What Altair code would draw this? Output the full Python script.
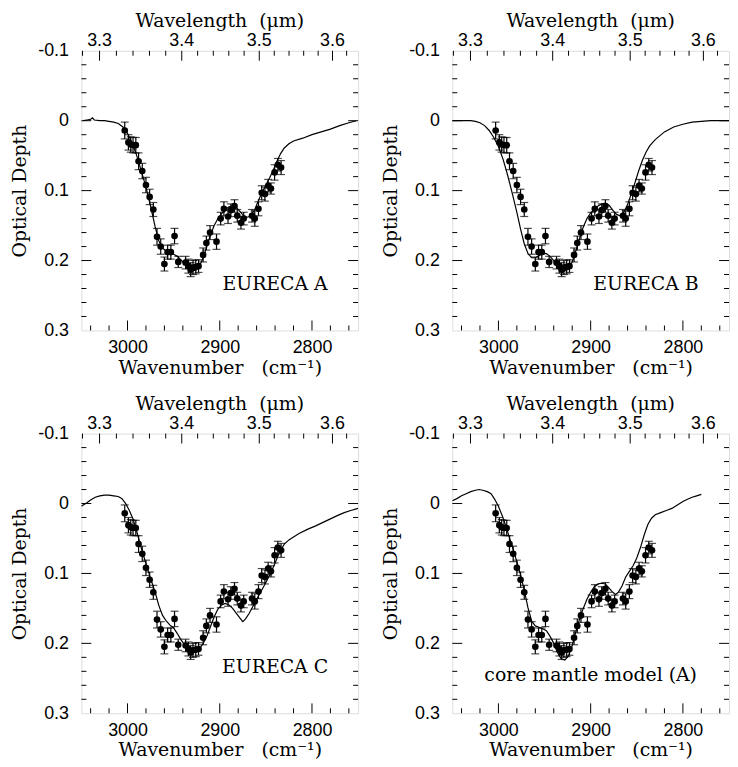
import altair as alt
import pandas as pd

# ---------------- observed optical depth (same data in all panels) ----------------
obs_wn = [3003, 2999, 2996.5, 2994, 2991,
          2988, 2984, 2980, 2976, 2972,
          2968, 2964, 2960, 2956.5, 2953,
          2949, 2945, 2937, 2934, 2931.5,
          2929, 2926, 2923, 2918, 2914.5,
          2910.5, 2903.5, 2899, 2895.5, 2891,
          2888, 2884, 2881, 2877, 2874,
          2865, 2862, 2858, 2854.5, 2851,
          2847.5, 2844.5, 2840.5, 2837, 2833.5]
obs_tau = [0.014, 0.031, 0.034, 0.035, 0.035,
           0.058, 0.072, 0.092, 0.109, 0.127,
           0.166, 0.180, 0.205, 0.188, 0.188,
           0.165, 0.202, 0.203, 0.208, 0.213,
           0.210, 0.209, 0.208, 0.192, 0.175,
           0.160, 0.173, 0.140, 0.126, 0.137,
           0.128, 0.122, 0.136, 0.146, 0.140,
           0.136, 0.140, 0.126, 0.103, 0.105,
           0.093, 0.097, 0.074, 0.063, 0.067]
obs_err = [0.012, 0.011, 0.011, 0.011, 0.011,
           0.012, 0.011, 0.011, 0.011, 0.010,
           0.012, 0.011, 0.010, 0.010, 0.010,
           0.011, 0.008, 0.009, 0.010, 0.010,
           0.010, 0.010, 0.009, 0.010, 0.010,
           0.010, 0.011, 0.009, 0.010, 0.010,
           0.009, 0.009, 0.009, 0.009, 0.009,
           0.009, 0.011, 0.010, 0.010, 0.010,
           0.009, 0.008, 0.011, 0.009, 0.010]

# ---------------- model curves ----------------
a_wn = [3048, 3044, 3040, 3038, 3036, 3030, 3025, 3020, 3015, 3010, 3005, 3000, 2995, 2990,
        2985, 2980, 2975, 2970, 2966, 2962, 2958, 2954, 2950, 2946, 2942, 2938, 2934, 2930,
        2926, 2922, 2918, 2914, 2910, 2906, 2902, 2898, 2894, 2890, 2886, 2882, 2878, 2874,
        2870, 2866, 2862, 2858, 2854, 2850, 2846, 2842, 2838, 2834, 2830, 2825, 2820, 2810,
        2800, 2790, 2780, 2770, 2760, 2752]
a_tau = [0.000, -0.001, -0.002, -0.004, -0.001, 0.000, 0.000, 0.001, 0.002, 0.004, 0.009, 0.018, 0.032, 0.050,
         0.072, 0.095, 0.122, 0.152, 0.172, 0.182, 0.187, 0.189, 0.191, 0.194, 0.199, 0.205, 0.210, 0.214,
         0.214, 0.208, 0.196, 0.180, 0.163, 0.150, 0.140, 0.133, 0.127, 0.123, 0.122, 0.124, 0.130, 0.136,
         0.138, 0.136, 0.127, 0.114, 0.102, 0.092, 0.082, 0.071, 0.058, 0.047, 0.039, 0.033, 0.029, 0.025,
         0.020, 0.016, 0.012, 0.007, 0.003, 0.000]

b_wn = [3050, 3040, 3030, 3025, 3020, 3015, 3010, 3005, 3000, 2995, 2990, 2985, 2980, 2976,
        2972, 2968, 2964, 2960, 2956, 2952, 2948, 2944, 2940, 2936, 2932, 2928, 2924, 2920,
        2916, 2912, 2908, 2904, 2900, 2896, 2892, 2888, 2884, 2880, 2876, 2872, 2868, 2864,
        2860, 2856, 2852, 2848, 2844, 2840, 2836, 2830, 2820, 2810, 2800, 2790, 2780, 2770, 2750]
b_tau = [0.000, 0.000, 0.000, 0.001, 0.003, 0.007, 0.014, 0.024, 0.037, 0.055, 0.078, 0.104, 0.131, 0.155,
         0.176, 0.190, 0.196, 0.196, 0.193, 0.190, 0.190, 0.194, 0.200, 0.207, 0.213, 0.215, 0.212, 0.202,
         0.186, 0.168, 0.152, 0.140, 0.132, 0.127, 0.122, 0.119, 0.118, 0.121, 0.128, 0.134, 0.136, 0.131,
         0.120, 0.105, 0.089, 0.072, 0.057, 0.045, 0.036, 0.027, 0.016, 0.009, 0.005, 0.002, 0.001, 0.000, 0.000]

c_wn = [3050, 3048, 3044, 3040, 3035, 3030, 3025, 3020, 3015, 3010, 3006, 3002, 2998, 2994, 2990,
        2985, 2980, 2975, 2970, 2966, 2962, 2958, 2954, 2950, 2946, 2942, 2938, 2934, 2930,
        2926, 2922, 2918, 2914, 2910, 2906, 2902, 2898, 2894, 2890, 2886, 2882, 2878, 2875,
        2872, 2868, 2864, 2860, 2855, 2850, 2845, 2840, 2835, 2830, 2825, 2820, 2814, 2805,
        2796, 2788, 2780, 2772, 2765, 2758, 2750]
c_tau = [0.004, 0.002, -0.001, -0.005, -0.009, -0.011, -0.012, -0.012, -0.011, -0.010, -0.007, 0.000, 0.010, 0.022, 0.040,
         0.064, 0.086, 0.107, 0.127, 0.146, 0.160, 0.168, 0.174, 0.178, 0.186, 0.195, 0.202, 0.207, 0.211,
         0.212, 0.208, 0.200, 0.190, 0.176, 0.162, 0.151, 0.145, 0.143, 0.145, 0.150, 0.157, 0.164, 0.169,
         0.165, 0.157, 0.147, 0.137, 0.125, 0.113, 0.100, 0.085, 0.069, 0.058, 0.052, 0.048, 0.043, 0.037,
         0.032, 0.027, 0.022, 0.017, 0.013, 0.010, 0.007]

d_wn = [3050, 3045, 3040, 3035, 3030, 3025, 3021, 3017, 3012, 3008, 3004, 3000, 2996, 2992,
        2988, 2984, 2980, 2976, 2972, 2968, 2964, 2960, 2956, 2952, 2948, 2944, 2940, 2936,
        2932, 2928, 2924, 2920, 2916, 2912, 2908, 2904, 2900, 2896, 2892, 2888, 2884, 2880,
        2876, 2873, 2870, 2866, 2862, 2858, 2854, 2850, 2846, 2842, 2838, 2834, 2830, 2824,
        2818, 2812, 2806, 2800, 2795, 2790, 2785, 2780]
d_tau = [-0.004, -0.007, -0.011, -0.014, -0.017, -0.019, -0.020, -0.019, -0.017, -0.014, -0.006, 0.004, 0.017, 0.032,
         0.049, 0.066, 0.083, 0.102, 0.124, 0.149, 0.168, 0.175, 0.177, 0.179, 0.182, 0.190, 0.200, 0.213,
         0.222, 0.224, 0.218, 0.203, 0.183, 0.165, 0.150, 0.137, 0.127, 0.119, 0.115, 0.114, 0.115, 0.121,
         0.127, 0.130, 0.127, 0.118, 0.105, 0.097, 0.089, 0.078, 0.063, 0.045, 0.030, 0.021, 0.016, 0.013,
         0.010, 0.007, 0.002, -0.003, -0.006, -0.009, -0.011, -0.013]

# ---------------- panel labels ----------------
panel_labels = ["EURECA A", "EURECA B", "EURECA C", "core mantle model (A)"]
label_wn = [2840, 2840, 2840, 2900]
label_tau = [0.234, 0.234, 0.234, 0.245]

# ---------------- axes ----------------
wn_domain = [2750, 3050]
tau_domain = [-0.1, 0.3]
wn_labels = [3000, 2900, 2800]
wn_minor = [3040, 3020, 2980, 2960, 2940, 2920, 2880, 2860, 2840, 2820, 2780, 2760]
lam_labels = [3.3, 3.4, 3.5, 3.6]
lam_minor = [3.28, 3.32, 3.34, 3.36, 3.38, 3.42, 3.44, 3.46, 3.48, 3.52, 3.54, 3.56, 3.58, 3.62]
tau_labels = [-0.1, 0.0, 0.1, 0.2, 0.3]
tau_major = [0.0, 0.1, 0.2]
tau_minor = [-0.08, -0.06, -0.04, -0.02, 0.02, 0.04, 0.06, 0.08, 0.12, 0.14, 0.16, 0.18,
             0.22, 0.24, 0.26, 0.28]

W, H = 279, 282
SERIF = "DejaVu Serif"
SANS = "Liberation Sans"
INK = "black"
NB = "\u00a0"

xs = alt.Scale(domain=wn_domain, reverse=True, nice=False, zero=False)
ys = alt.Scale(domain=tau_domain, reverse=True, nice=False, zero=False)

X_AX = alt.Axis(values=wn_labels, ticks=False, domain=False, grid=False, format="d",
                labelFont=SANS, labelFontSize=18, labelColor=INK, labelPadding=8,
                title="Wavenumber" + NB * 3 + "(cm\u207b\u00b9)", titleFont=SERIF, titleFontSize=19,
                titleFontWeight="normal", titleColor=INK, titlePadding=2)
Y_AX = alt.Axis(values=tau_labels, ticks=False, domain=False, grid=False,
                labelExpr="datum.value < 0 ? '-' + format(-datum.value, '.1f') : (datum.value == 0 ? '0' : format(datum.value, '.1f'))",
                labelFont=SANS, labelFontSize=18, labelColor=INK, labelPadding=13,
                title="Optical" + NB + "Depth", titleFont=SERIF, titleFontSize=19,
                titleFontWeight="normal", titleColor=INK, titlePadding=8)


def X(field="wn"):
    return alt.X(f"{field}:Q", scale=xs, axis=X_AX)


def Y(field="tau"):
    return alt.Y(f"{field}:Q", scale=ys, axis=Y_AX)


obs = pd.DataFrame({"wn": obs_wn, "tau": obs_tau, "err": obs_err})
obs["lo"] = obs["tau"] - obs["err"]
obs["hi"] = obs["tau"] + obs["err"]

wn_minor_df = pd.DataFrame({"wn": wn_minor})
wn_major_df = pd.DataFrame({"wn": wn_labels})
lam_major_df = pd.DataFrame({"lam": lam_labels})
lam_major_df["wn"] = 1e4 / lam_major_df["lam"]
lam_major_df["txt"] = [f"{v:.1f}" for v in lam_labels]
lam_minor_df = pd.DataFrame({"lam": lam_minor})
lam_minor_df["wn"] = 1e4 / lam_minor_df["lam"]
tau_major_df = pd.DataFrame({"tau": tau_major})
tau_minor_df = pd.DataFrame({"tau": tau_minor})


def panel(cwn, ctau, idx):
    curve = pd.DataFrame({"wn": cwn, "tau": ctau})
    lab = pd.DataFrame({"wn": [label_wn[idx]], "tau": [label_tau[idx]], "txt": [panel_labels[idx]]})

    line = alt.Chart(curve).mark_line(color=INK, strokeWidth=1.2, clip=True).encode(
        x=X(), y=Y(), order="wn:Q")
    bars = alt.Chart(obs).mark_rule(color=INK, strokeWidth=1.2).encode(
        x=X(), y=Y("lo"), y2="hi:Q")
    caps = alt.Chart(obs).transform_fold(["lo", "hi"], as_=["end", "v"]).mark_tick(
        color=INK, orient="horizontal", size=8, thickness=1.2).encode(x=X(), y=Y("v"))
    pts = alt.Chart(obs).mark_point(filled=True, color=INK, opacity=1, size=45).encode(
        x=X(), y=Y())

    bt_min = alt.Chart(wn_minor_df).mark_rule(color=INK, strokeWidth=1).encode(
        x=X(), y=alt.value(H), y2=alt.value(H - 5))
    bt_maj = alt.Chart(wn_major_df).mark_rule(color=INK, strokeWidth=1).encode(
        x=X(), y=alt.value(H), y2=alt.value(H - 10))
    tp_min = alt.Chart(lam_minor_df).mark_rule(color=INK, strokeWidth=1).encode(
        x=X(), y=alt.value(0), y2=alt.value(5))
    tp_maj = alt.Chart(lam_major_df).mark_rule(color=INK, strokeWidth=1).encode(
        x=X(), y=alt.value(0), y2=alt.value(10))
    tp_txt = alt.Chart(lam_major_df).mark_text(
        font=SANS, fontSize=18, color=INK, baseline="alphabetic").encode(
        x=X(), y=alt.value(-5), text="txt:N")
    tp_title = alt.Chart(pd.DataFrame({"t": ["Wavelength" + NB * 2 + "(\u03bcm)"]})).mark_text(
        font=SERIF, fontSize=19, color=INK, baseline="alphabetic").encode(
        x=alt.value(W / 2), y=alt.value(-24), text="t:N")
    lt_min = alt.Chart(tau_minor_df).mark_rule(color=INK, strokeWidth=1).encode(
        y=Y(), x=alt.value(0), x2=alt.value(5))
    lt_maj = alt.Chart(tau_major_df).mark_rule(color=INK, strokeWidth=1).encode(
        y=Y(), x=alt.value(0), x2=alt.value(10))
    rt_min = alt.Chart(tau_minor_df).mark_rule(color=INK, strokeWidth=1).encode(
        y=Y(), x=alt.value(W), x2=alt.value(W - 5))
    rt_maj = alt.Chart(tau_major_df).mark_rule(color=INK, strokeWidth=1).encode(
        y=Y(), x=alt.value(W), x2=alt.value(W - 10))

    txt = alt.Chart(lab).mark_text(font=SERIF, fontSize=19, color=INK).encode(
        x=X(), y=Y(), text="txt:N")

    return alt.layer(line, bars, caps, pts, bt_min, bt_maj, tp_min, tp_maj, tp_txt, tp_title,
                     lt_min, lt_maj, rt_min, rt_maj, txt).properties(width=W, height=H)


pA = panel(a_wn, a_tau, 0)
pB = panel(b_wn, b_tau, 1)
pC = panel(c_wn, c_tau, 2)
pD = panel(d_wn, d_tau, 3)

chart = alt.concat(pA, pB, pC, pD, columns=2,
                   spacing=alt.RowColnumber(row=104, column=95), bounds="flush").properties(
    padding={"left": 2, "top": 0, "right": 0, "bottom": 0}
).configure_view(stroke=INK, strokeWidth=1.3).configure(background="white")

chart.save("out.html", embed_options={"renderer": "svg", "actions": False})
